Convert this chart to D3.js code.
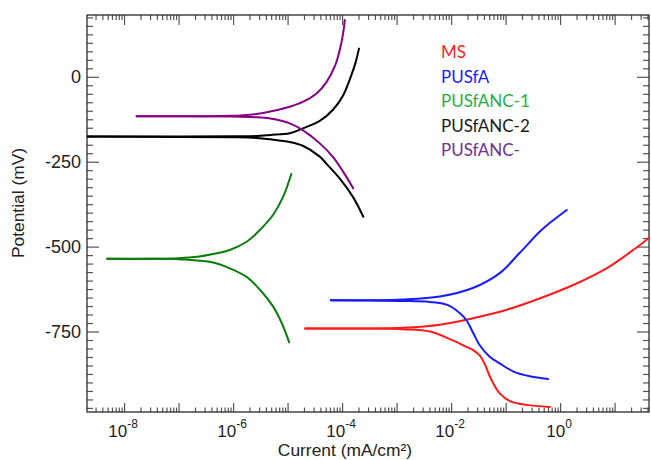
<!DOCTYPE html>
<html>
<head>
<meta charset="utf-8">
<script src="https://cdn.jsdelivr.net/npm/d3@7"></script>
<style>
  html, body { margin: 0; padding: 0; background: #fff; }
  svg { display: block; }
</style>
</head>
<body>
<svg id="chart" width="651" height="460"></svg>
<script>
// Tafel polarization curves: potential (mV) vs current density (mA/cm²), log scale.
// Each branch is a list of [current, potential] pairs, starting from the low-current end.

const seriesNames = ["MS", "PUSfA", "PUSfANC-1", "PUSfANC-2", "PUSfANC-"];
const lineColors = ["#ff1a1a", "#1a1aff", "#0b7d0b", "#000000", "#860086"];
const legendColors = ["#ff2020", "#1a1aff", "#1fb04a", "#1a1a1a", "#7030a0"];

const msCathodic = [
  [2.1e-5, -741], [3.2e-4, -741], [1.3e-3, -743], [4.1e-3, -750], [1.1e-2, -777],
  [1.9e-2, -795], [2.5e-2, -804], [3.4e-2, -822], [4.2e-2, -848], [5.0e-2, -878],
  [5.9e-2, -902], [7.8e-2, -932], [0.12, -955], [0.24, -966], [0.65, -972]
];
const msAnodic = [
  [2.1e-5, -741], [3.2e-4, -741], [1.3e-3, -739], [6.2e-3, -730], [2.5e-2, -711],
  [0.105, -686], [0.43, -652], [1.74, -613], [7.1, -564], [16.6, -524], [44.7, -471], [56, -452]
];

const pusfaCathodic = [
  [6.2e-5, -658], [3.2e-4, -659], [1.3e-3, -660], [4.1e-3, -663], [8.3e-3, -671],
  [1.45e-2, -696], [1.9e-2, -716], [2.5e-2, -752], [3.4e-2, -792], [5.1e-2, -824],
  [7.8e-2, -844], [0.14, -868], [0.28, -882], [0.6, -890]
];
const pusfaAnodic = [
  [6.2e-5, -658], [3.2e-4, -658], [1.3e-3, -656], [6.2e-3, -647], [2.5e-2, -622],
  [7.8e-2, -578], [0.18, -519], [0.43, -455], [0.65, -430], [1.32, -392]
];

const anc1Cathodic = [
  [4.9e-9, -536], [3.2e-8, -536], [1e-7, -537], [2.2e-7, -541], [4.3e-7, -547],
  [8.7e-7, -564], [1.8e-6, -590], [3.1e-6, -627], [5.4e-6, -676], [7.8e-6, -725], [1.07e-5, -782]
];
const anc1Anodic = [
  [4.9e-9, -536], [3.2e-8, -536], [1e-7, -534], [2.2e-7, -530], [4.3e-7, -522],
  [8.7e-7, -510], [1.8e-6, -485], [3.1e-6, -451], [5.4e-6, -407], [8.3e-6, -353], [1.17e-5, -286]
];

const anc2Cathodic = [
  [1.8e-9, -176], [1e-7, -177], [1e-6, -178], [2.7e-6, -180], [4.8e-6, -184],
  [1.1e-5, -192], [1.9e-5, -203], [3.9e-5, -235], [5.1e-5, -255], [9.1e-5, -300],
  [1.6e-4, -355], [2.45e-4, -412]
];
const anc2Anodic = [
  [1.8e-9, -176], [1e-7, -176], [1e-6, -175], [2.7e-6, -174], [4.8e-6, -171],
  [1.1e-5, -166], [1.9e-5, -152], [3.9e-5, -130], [6.8e-5, -97], [1.05e-4, -54],
  [1.48e-4, 5], [1.78e-4, 44], [2.04e-4, 83]
];

const ancCathodic = [
  [1.7e-8, -116], [8.7e-7, -117], [2.5e-6, -119], [4.8e-6, -123], [1.1e-5, -137],
  [1.9e-5, -157], [3.9e-5, -196], [6.9e-5, -237], [1.05e-4, -280], [1.6e-4, -328]
];
const ancAnodic = [
  [1.7e-8, -116], [8.7e-7, -115], [2.5e-6, -110], [4.8e-6, -102], [1.1e-5, -88],
  [1.9e-5, -74], [3.4e-5, -49], [5.1e-5, -17], [7.4e-5, 32], [9.1e-5, 80],
  [1.05e-4, 130], [1.12e-4, 167]
];

const branches = [
  [msCathodic, msAnodic],
  [pusfaCathodic, pusfaAnodic],
  [anc1Cathodic, anc1Anodic],
  [anc2Cathodic, anc2Anodic],
  [ancCathodic, ancAnodic]
];

// Axis domains and ticks
const currentDomain = [2.09e-9, 42.7];
const potentialDomain = [-987, 182];
const xLabelExponents = [-8, -6, -4, -2, 0];
const yTickLabels = [-750, -500, -250, 0];

const svg = d3.select("#chart");
const plot = { left: 87, right: 649, top: 15, bottom: 412 };

const x = d3.scaleLog().domain(currentDomain).range([plot.left, plot.right]);
const y = d3.scaleLinear().domain(potentialDomain).range([plot.bottom, plot.top]);

// Tick positions: decades with 2..9 minors, potentials every 25 mV with majors every 250
const decades = d3.range(-9, 2);
const xMajor = decades.map(e => Math.pow(10, e)).filter(v => v >= currentDomain[0] && v <= currentDomain[1]);
const xMinor = [];
decades.forEach(e => d3.range(2, 10).forEach(k => {
  const v = k * Math.pow(10, e);
  if (v >= currentDomain[0] && v <= currentDomain[1]) xMinor.push(v);
}));
const yMinor = d3.range(-975, 181, 25).filter(v => v % 250 !== 0);
const yMajor = d3.range(-750, 181, 250);

const tickColor = "#555";

function drawAxis(axis, tx, ty) {
  const g = svg.append("g").attr("transform", `translate(${tx},${ty})`).call(axis);
  g.select(".domain").remove();
  g.selectAll(".tick line").attr("stroke", tickColor).attr("stroke-width", 1.2);
  g.selectAll(".tick text").remove();
  return g;
}

// Inward ticks on all four sides
drawAxis(d3.axisBottom(x).tickValues(xMajor).tickSize(-9).tickFormat(""), 0, plot.bottom);
drawAxis(d3.axisBottom(x).tickValues(xMinor).tickSize(-4.5).tickFormat(""), 0, plot.bottom);
drawAxis(d3.axisTop(x).tickValues(xMajor).tickSize(-10).tickFormat(""), 0, plot.top);
drawAxis(d3.axisTop(x).tickValues(xMinor).tickSize(-5).tickFormat(""), 0, plot.top);
drawAxis(d3.axisLeft(y).tickValues(yMajor).tickSize(-12).tickFormat(""), plot.left, 0);
drawAxis(d3.axisLeft(y).tickValues(yMinor).tickSize(-6).tickFormat(""), plot.left, 0);
drawAxis(d3.axisRight(y).tickValues(yMajor).tickSize(-12).tickFormat(""), plot.right, 0);
drawAxis(d3.axisRight(y).tickValues(yMinor).tickSize(-6).tickFormat(""), plot.right, 0);

// Frame
svg.append("rect")
  .attr("x", plot.left).attr("y", plot.top)
  .attr("width", plot.right - plot.left).attr("height", plot.bottom - plot.top)
  .attr("fill", "none").attr("stroke", "#2a2a2a").attr("stroke-width", 1.3);

const labelFont = "'Liberation Sans', Arial, sans-serif";
const textColor = "#222";

// X tick labels as powers of ten
xLabelExponents.forEach(e => {
  const t = svg.append("text")
    .attr("x", x(Math.pow(10, e)) - 1)
    .attr("y", 437)
    .attr("text-anchor", "middle")
    .attr("font-family", labelFont)
    .attr("font-size", 17)
    .attr("fill", textColor);
  t.append("tspan").text("10");
  t.append("tspan").attr("dy", -9).attr("font-size", 12).text(String(e));
});

// Y tick labels
yTickLabels.forEach(v => {
  svg.append("text")
    .attr("x", 81)
    .attr("y", y(v))
    .attr("dy", "0.36em")
    .attr("text-anchor", "end")
    .attr("font-family", labelFont)
    .attr("font-size", 18)
    .attr("fill", textColor)
    .text(v);
});

// Axis titles
svg.append("text")
  .attr("x", 345).attr("y", 456)
  .attr("text-anchor", "middle")
  .attr("font-family", labelFont).attr("font-size", 17.4)
  .attr("fill", textColor)
  .text("Current (mA/cm²)");

svg.append("text")
  .attr("transform", "translate(24,203) rotate(-90)")
  .attr("text-anchor", "middle")
  .attr("font-family", labelFont).attr("font-size", 17.4)
  .attr("fill", textColor)
  .text("Potential (mV)");

// Curves, clipped to the plot frame
svg.append("clipPath").attr("id", "plot-clip")
  .append("rect")
  .attr("x", plot.left).attr("y", plot.top)
  .attr("width", plot.right - plot.left).attr("height", plot.bottom - plot.top);

const line = d3.line()
  .x(d => x(d[0]))
  .y(d => y(d[1]))
  .curve(d3.curveCatmullRom.alpha(0.5));

const curves = svg.append("g").attr("clip-path", "url(#plot-clip)");
branches.forEach((pair, i) => {
  pair.forEach(branch => {
    curves.append("path")
      .datum(branch)
      .attr("d", line)
      .attr("fill", "none")
      .attr("stroke", lineColors[i])
      .attr("stroke-width", 2)
      .attr("stroke-linejoin", "round")
      .attr("stroke-linecap", "round");
  });
});

// Legend: coloured names
const legend = svg.append("g").attr("transform", "translate(441,0)");
seriesNames.forEach((name, i) => {
  legend.append("text")
    .attr("x", 0)
    .attr("y", 58 + i * 24.5)
    .attr("font-family", "Lato, 'Open Sans', sans-serif")
    .attr("font-size", 17)
    .attr("fill", legendColors[i])
    .text(name);
});
</script>
</body>
</html>
